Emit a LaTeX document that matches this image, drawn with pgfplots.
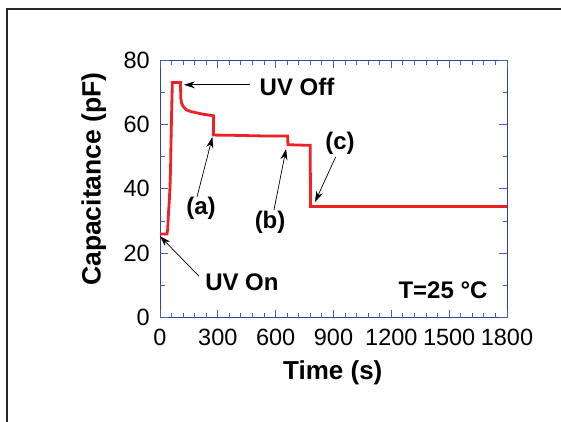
\documentclass[border=0pt]{standalone}
\usepackage{fontspec}
\setmainfont{Liberation Sans}
\usepackage{pgfplots}
\pgfplotsset{compat=1.18}
\usetikzlibrary{arrows.meta}
\definecolor{axblue}{HTML}{2F40A0}
\definecolor{tkblue}{HTML}{4A5CB8}
\definecolor{curve}{HTML}{EC2227}
\begin{document}
\begin{tikzpicture}
\path[use as bounding box] (0,0) rectangle (561bp,422bp);
\draw[line width=1.8bp, black!85] (7bp,0) -- (7bp,412.7bp) -- (561bp,412.7bp);
\begin{axis}[
  at={(160bp,104.3bp)}, anchor=south west,
  scale only axis, width=347bp, height=257.7bp,
  xmin=0, xmax=1800, ymin=0, ymax=80,
  xtick={0,300,...,1800}, ytick={0,20,...,80},
  minor xtick={60,120,...,1740}, minor ytick={10,30,50,70},
  tick align=inside,
  every tick/.append style={tkblue, line width=1bp},
  major tick length=8bp, minor tick length=4.5bp,
  axis line style={draw=axblue, line width=1bp},
  tick label style={font=\fontsize{23.5bp}{26bp}\selectfont, inner sep=0pt},
  /pgf/number format/assume math mode=true,
  /pgf/number format/1000 sep={},
  xticklabel style={yshift=-11bp},
  yticklabel style={xshift=-10bp},
  xlabel={Time (s)}, ylabel={Capacitance (pF)},
  xlabel style={at={(axis description cs:0.498,-0.213)}, anchor=center, font=\fontsize{26bp}{30bp}\selectfont\bfseries},
  ylabel style={at={(axis description cs:-0.191,0.538)}, anchor=center, font=\fontsize{26.5bp}{30bp}\selectfont\bfseries},
  clip=false,
]
% tick marks drawn once more by hand, in case the axis ones come out too faint
\pgfplotsinvokeforeach{0,300,...,1800}{
  \draw[tkblue, line width=1bp] (axis cs:#1,0) -- ++(0,8bp);
  \draw[tkblue, line width=1bp] (axis cs:#1,80) -- ++(0,-8bp);
}
\pgfplotsinvokeforeach{60,120,...,1740}{
  \draw[tkblue, line width=1bp] (axis cs:#1,0) -- ++(0,4.5bp);
  \draw[tkblue, line width=1bp] (axis cs:#1,80) -- ++(0,-4.5bp);
}
\pgfplotsinvokeforeach{0,20,...,80}{
  \draw[tkblue, line width=1bp] (axis cs:0,#1) -- ++(8bp,0);
  \draw[tkblue, line width=1bp] (axis cs:1800,#1) -- ++(-8bp,0);
}
\pgfplotsinvokeforeach{10,30,50,70}{
  \draw[tkblue, line width=1bp] (axis cs:0,#1) -- ++(4.5bp,0);
  \draw[tkblue, line width=1bp] (axis cs:1800,#1) -- ++(-4.5bp,0);
}
\addplot[curve, line width=2.8bp, line join=miter] coordinates {
(0,26.0)(36,26.0)(40,27.5)(43,31.4)(48,36)(52,40.7)(55,47)(57,54.2)(60,63)(64,73.0)
(106,73.0)(108,68.1)(112,66.6)(120,65.6)(138,64.5)(160,64.0)(190,63.6)(230,63.1)(277,62.7)
(278,56.7)(400,56.6)(550,56.4)(662,56.4)(664,53.7)(779,53.5)(781,34.5)(1800,34.5)};
\begin{scope}[font=\fontsize{24bp}{28bp}\selectfont\bfseries]
\node at (axis cs:711,71.6) {UV Off};
\node at (axis cs:425,11.1) {UV On};
\node at (axis cs:213,34) {(a)};
\node at (axis cs:571,29.7) {(b)};
\node at (axis cs:934,54.2) {(c)};
\node[anchor=east] at (axis cs:1717,8.6) {T=25 °C};
\end{scope}
\begin{scope}[-{Stealth[length=11bp,width=7bp]}, line width=0.7bp]
\draw (axis cs:467,72.3) -- (axis cs:124,72.3);
\draw (axis cs:202,12.9) -- (axis cs:0,25.3);
\draw (axis cs:192,37.5) -- (axis cs:272,56.1);
\draw (axis cs:591,33.4) -- (axis cs:654,52.4);
\draw (axis cs:911,49.9) -- (axis cs:804,35.9);
\end{scope}
\end{axis}
\end{tikzpicture}
\end{document}
